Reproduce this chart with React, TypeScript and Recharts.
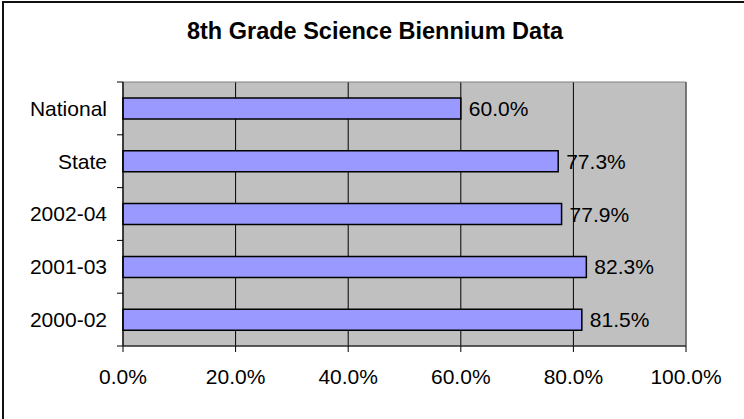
import React from "react";
import {
  BarChart,
  Bar,
  XAxis,
  YAxis,
  CartesianGrid,
  LabelList,
  ReferenceArea,
} from "recharts";

const categories = ["National", "State", "2002-04", "2001-03", "2000-02"];
const scores = [60.0, 77.3, 77.9, 82.3, 81.5];
const xTicks = [0, 20, 40, 60, 80, 100];
const bandTicks = [0, 1, 2, 3, 4, 5];

const data = categories.map((name, i) => ({ name, value: scores[i], band: i }));

const pct = (v: any) => Number(v).toFixed(1) + "%";

export default function App() {
  return (
    <div
      style={{
        position: "absolute",
        left: 0,
        top: 0,
        width: 744,
        height: 419,
        background: "#fff",
        fontFamily: "'Liberation Sans', Arial, sans-serif",
        overflow: "hidden",
      }}
    >
      {/* outer frame, only top and left edges are in view */}
      <div
        style={{
          position: "absolute",
          left: 2,
          top: 1,
          width: 760,
          height: 440,
          borderTop: "2px solid #111",
          borderLeft: "2px solid #111",
        }}
      />
      <div
        style={{
          position: "absolute",
          left: 0,
          top: 20,
          width: 750,
          textAlign: "center",
          fontSize: 23.5,
          lineHeight: "23px",
          fontWeight: "bold",
          color: "#000",
        }}
      >
        8th Grade Science Biennium Data
      </div>
      <div style={{ position: "absolute", left: 0, top: 0 }}>
        <BarChart
          width={744}
          height={419}
          data={data}
          layout="vertical"
          margin={{ top: 82, right: 58, bottom: 0, left: 0 }}
        >
          <CartesianGrid
            horizontal={false}
            stroke="#000"
            fill="#C0C0C0"
            fillOpacity={1}
            yAxisId="cat"
          />
          <ReferenceArea
            x1={0}
            x2={100}
            yAxisId="cat"
            fill="none"
            stroke="#808080"
            strokeWidth={1}
          />
          <XAxis
            type="number"
            domain={[0, 100]}
            ticks={xTicks}
            tickFormatter={pct}
            height={73}
            tickSize={6}
            tickMargin={17}
            axisLine={{ stroke: "#000" }}
            tickLine={{ stroke: "#000" }}
            tick={{ fill: "#000", fontSize: 21 }}
          />
          {/* tick marks between categories, like the Excel original */}
          <YAxis
            yAxisId="band"
            type="number"
            dataKey="band"
            domain={[0, 5]}
            allowDataOverflow
            ticks={bandTicks}
            width={6}
            tickSize={6}
            tickFormatter={() => ""}
            axisLine={{ stroke: "#000" }}
            tickLine={{ stroke: "#000" }}
          />
          <YAxis
            yAxisId="cat"
            type="category"
            dataKey="name"
            width={117}
            tickSize={0}
            tickMargin={10}
            axisLine={false}
            tickLine={false}
            tick={{ fill: "#000", fontSize: 21 }}
          />
          <Bar
            dataKey="value"
            yAxisId="cat"
            fill="#9999FF"
            stroke="#000"
            strokeWidth={1.5}
            barSize={21}
            isAnimationActive={false}
          >
            <LabelList
              dataKey="value"
              position="right"
              offset={8}
              formatter={pct}
              fill="#000"
              fontSize={21}
            />
          </Bar>
        </BarChart>
      </div>
    </div>
  );
}
